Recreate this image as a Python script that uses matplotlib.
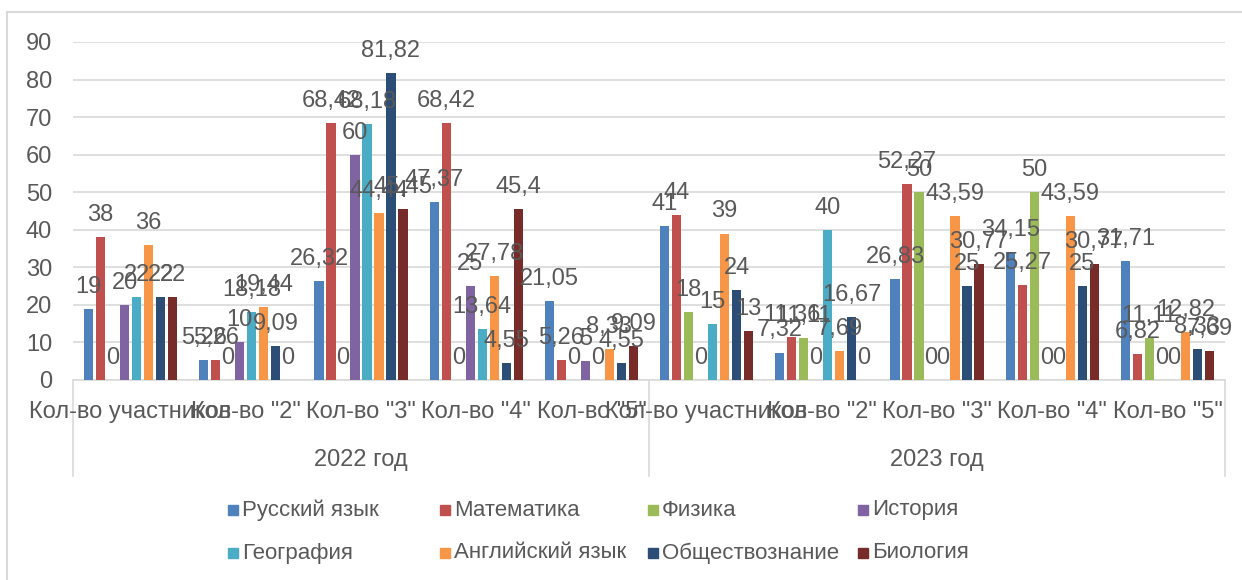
import matplotlib
matplotlib.use("Agg")
import matplotlib.pyplot as plt
from matplotlib.lines import Line2D
from matplotlib.patches import Rectangle
import numpy as np

plt.rcParams['font.family'] = ['Liberation Sans', 'DejaVu Sans']

categories = ['Кол-во участников', 'Кол-во "2"', 'Кол-во "3"', 'Кол-во "4"', 'Кол-во "5"',
              'Кол-во участников', 'Кол-во "2"', 'Кол-во "3"', 'Кол-во "4"', 'Кол-во "5"']
years = ['2022 год', '2023 год']

series_names = ['Русский язык', 'Математика', 'Физика', 'История',
                'География', 'Английский язык', 'Обществознание', 'Биология']

russian   = [19, 5.26, 26.32, 47.37, 21.05, 41, 7.32, 26.83, 34.15, 31.71]
math_     = [38, 5.26, 68.42, 68.42, 5.26, 44, 11.36, 52.27, 25.27, 6.82]
physics   = [0, 0, 0, 0, 0, 18, 11.11, 50, 50, 11.11]
history   = [20, 10, 60, 25, 5, 0, 0, 0, 0, 0]
geography = [22, 18.18, 68.18, 13.64, 0, 15, 40, 0, 0, 0]
english   = [36, 19.44, 44.44, 27.78, 8.33, 39, 7.69, 43.59, 43.59, 12.82]
social    = [22, 9.09, 81.82, 4.55, 4.55, 24, 16.67, 25, 25, 8.33]
biology   = [22, 0, 45.45, 45.4, 9.09, 13, 0, 30.77, 30.77, 7.69]

series = [russian, math_, physics, history, geography, english, social, biology]
colors = ['#4F81BD', '#C0504D', '#9BBB59', '#8064A2',
          '#4BACC6', '#F79646', '#2C4D75', '#772C2A']

W, H = 1242, 580
fig = plt.figure(figsize=(W / 100, H / 100), dpi=100)
ax = fig.add_axes([73 / W, 1 - 380 / H, (1225 - 73) / W, (380 - 42) / H])

x = np.arange(len(categories))
step = 0.104
bw = 0.08
text_col = '#595959'
grid_col = '#D9D9D9'

for i, (vals, c) in enumerate(zip(series, colors)):
    pos = x + (i - 3.5) * step
    bars = ax.bar(pos, vals, width=bw, color=c, zorder=3)
    labels = [('%g' % v).replace('.', ',') for v in vals]
    ax.bar_label(bars, labels=labels, padding=8, fontsize=17, color=text_col, zorder=4)

ax.set_xlim(-0.5, len(categories) - 0.5)
ax.set_ylim(0, 90)
ax.set_yticks(np.arange(0, 91, 10))
ax.yaxis.grid(True, color=grid_col, linewidth=1.2, zorder=0)
ax.tick_params(axis='y', length=0, labelsize=17, labelcolor=text_col, pad=15)
ax.set_xticks([])
for s in ['top', 'right', 'left']:
    ax.spines[s].set_visible(False)
ax.spines['bottom'].set_color(grid_col)
ax.spines['bottom'].set_linewidth(1.2)

# category labels
for xi, lab in zip(x, categories):
    ax.text(xi, -0.095, lab, transform=ax.get_xaxis_transform(), ha='center', va='center',
            fontsize=17, color=text_col, clip_on=False)
# year group labels
n_per = len(categories) // len(years)
for gi, yl in enumerate(years):
    cx = gi * n_per + (n_per - 1) / 2
    ax.text(cx, -0.237, yl, transform=ax.get_xaxis_transform(), ha='center', va='center',
            fontsize=17, color=text_col, clip_on=False)
# separators
for gi in range(len(years) + 1):
    xs = gi * n_per - 0.5
    ax.add_line(Line2D([xs, xs], [0, -0.285], transform=ax.get_xaxis_transform(),
                       color=grid_col, linewidth=1.2, clip_on=False))

# legend (manual, fixed column widths like the original)
col_x = [228, 440, 648, 858]
row_y = [510, 553]
for i, (name, c) in enumerate(zip(series_names, colors)):
    r, cidx = divmod(i, 4)
    px, py = col_x[cidx], row_y[r]
    fig.patches.append(Rectangle((px / W, 1 - (py + 5) / H), 10 / W, 10 / H,
                                 transform=fig.transFigure, color=c))
    fig.text((px + 14) / W, 1 - py / H, name, ha='left', va='center',
             fontsize=16, color=text_col)

# chart frame (top and left visible)
fig.add_artist(Line2D([7 / W, 1], [1 - 12 / H, 1 - 12 / H], transform=fig.transFigure,
                      color=grid_col, linewidth=1.5))
fig.add_artist(Line2D([7 / W, 7 / W], [0, 1 - 12 / H], transform=fig.transFigure,
                      color=grid_col, linewidth=1.5))

fig.savefig('out.png', dpi=100)
